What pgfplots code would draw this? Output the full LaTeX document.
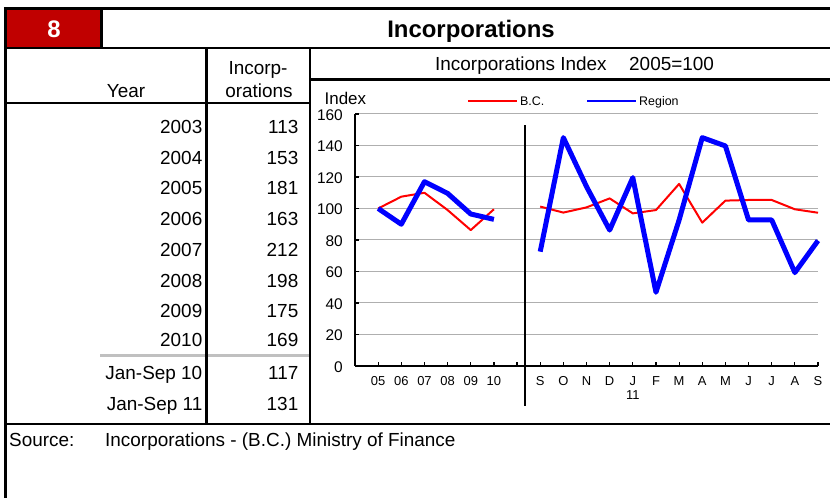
\documentclass[border=0pt]{standalone}
\usepackage{fontspec}
\setmainfont{Liberation Sans}
\usepackage{pgfplots}
\pgfplotsset{compat=1.18}
\definecolor{boxred}{RGB}{192,0,0}
\definecolor{gridgray}{RGB}{175,175,175}
\definecolor{sepgray}{RGB}{192,192,192}
\newcommand{\fs}[1]{\fontsize{#1}{#1}\selectfont}
\begin{document}
\begin{tikzpicture}[x=1bp,y=1bp]
\useasboundingbox (0,0) rectangle (830,498);
% ---- frame ----
\fill[boxred] (6.7,451.3) rectangle (100,488);
\draw[sepgray, line width=3bp] (100,142.3) -- (310,142.3);
\begin{scope}[line width=2.7bp, black]
\draw (3.95,489.3) -- (830,489.3);
\draw (5.3,490.6) -- (5.3,0);
\draw (101.3,489.3) -- (101.3,450);
\draw (5.3,450) -- (830,450);
\draw (206.3,450) -- (206.3,74);
\draw (310,450) -- (310,74);
\draw (5.3,395) -- (310,395);
\draw (310,418.5) -- (830,418.5);
\draw (5.3,74) -- (830,74);
\end{scope}
% ---- header texts ----
\node[anchor=base, inner sep=0, text=white, font=\bfseries\fs{24}] at (54,460.7) {8};
\node[anchor=base, inner sep=0, font=\bfseries\fs{24}] at (471,460.7) {Incorporations};
\node[anchor=base, inner sep=0, font=\fs{19}] at (258,423) {Incorp-};
\node[anchor=base, inner sep=0, font=\fs{19}] at (259,400.7) {orations};
\node[anchor=base, inner sep=0, font=\fs{19}] at (126,400.7) {Year};
\node[anchor=base west, inner sep=0, font=\fs{19}] at (435,427.3) {Incorporations Index};
\node[anchor=base west, inner sep=0, font=\fs{19}] at (629,427.3) {2005=100};
% ---- table rows ----
\foreach \yr/\val/\py in {2003/113/133.5, 2004/153/164.3, 2005/181/195, 2006/163/225.7, 2007/212/256.5, 2008/198/287.3, 2009/175/318, 2010/169/346.7, Jan-Sep 10/117/380, Jan-Sep 11/131/411}{
  \node[anchor=base east, inner sep=0, font=\fs{19}] at (202.5,498-\py) {\yr};
  \node[anchor=base east, inner sep=0, font=\fs{19}] at (298.5,498-\py) {\val};
}
% ---- source ----
\node[anchor=base west, inner sep=0, font=\fs{19}] at (9,51) {Source:};
\node[anchor=base west, inner sep=0, font=\fs{19}] at (105,51) {Incorporations - (B.C.) Ministry of Finance};
% ---- chart ----
\node[anchor=base west, inner sep=0, font=\fs{17}] at (324.5,393.5) {Index};
\begin{axis}[
  at={(355bp,132bp)}, anchor=south west,
  scale only axis, width=463bp, height=252bp,
  xmin=-1, xmax=19, ymin=0, ymax=160,
  clip=false,
  axis x line*=bottom, axis y line*=left,
  axis line style={line width=2.5bp, -, black},
  ytick={0,20,...,160},
  xtick={0,...,19},
  xticklabels={05,06,07,08,09,10,,S,O,N,D,{J\\11},F,M,A,M,J,J,A,S},
  tick align=inside,
  major tick length=4bp,
  tick style={black, line width=1.2bp},
  ymajorgrids, grid style={gridgray, line width=1bp},
  /pgf/number format/assume math mode=true,
  yticklabel style={font=\fs{15.5}, inner sep=0pt, xshift=-12bp, yshift=-1bp},
  xticklabel style={font=\fontsize{13}{14}\selectfont, inner sep=0pt, align=center, yshift=-10.7bp},
  legend columns=2,
  legend cell align=left,
  legend image code/.code={\draw[#1, line width=2bp] (0bp,0bp) -- (49bp,0bp);},
  legend style={draw=none, fill=none, inner sep=0pt, outer sep=0pt, anchor=west,
    at={(axis description cs:0.2419,1.0496)}, font=\fs{12.5},
    /tikz/every even column/.append style={column sep=40bp}},
]
\addplot[red, line width=2bp, line join=round] coordinates {(0,100) (1,107.5) (2,110) (3,99) (4,86.3) (5,99.5)};
\addlegendentry{B.C.}
\addplot[blue, line width=5bp, line join=round] coordinates {(0,100) (1,90) (2,117) (3,109.6) (4,96.5) (5,93.1)};
\addlegendentry{Region}
\addplot[red, line width=2bp, line join=round, forget plot] coordinates {(7,101.2) (8,97.4) (9,100.7) (10,106.4) (11,96.9) (12,99) (13,115.6) (14,91) (15,105) (16,105.4) (17,105.4) (18,99.5) (19,97.3)};
\addplot[blue, line width=5bp, line join=round, forget plot] coordinates {(7,72.6) (8,145) (9,113.9) (10,86.3) (11,119.6) (12,46.8) (13,92.7) (14,145) (15,139.7) (16,92.7) (17,92.7) (18,59.3) (19,79.6)};
\draw[black, line width=1.2bp] (axis cs:6.34,153) -- (axis cs:6.34,-25.4);
\end{axis}
\end{tikzpicture}
\end{document}
